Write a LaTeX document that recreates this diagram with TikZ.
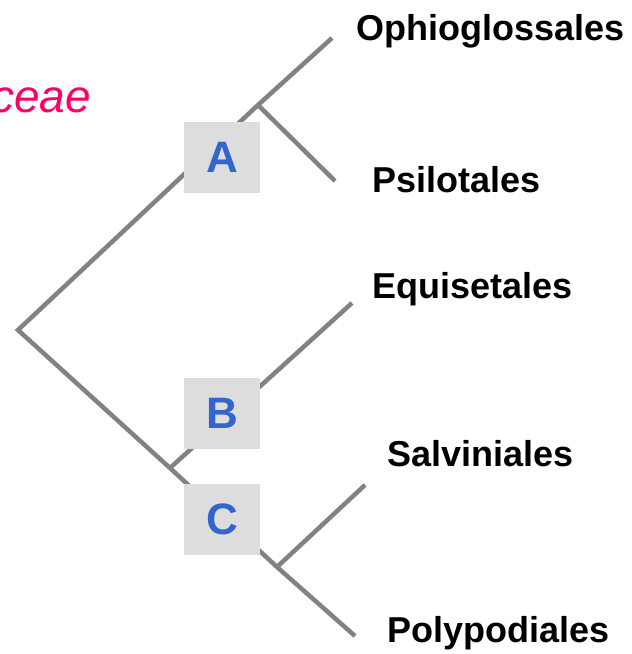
\documentclass[tikz,border=0pt]{standalone}
\usepackage{fontspec}
\setmainfont{Liberation Sans}
\definecolor{branchgray}{HTML}{828282}
\definecolor{boxgray}{HTML}{DDDDDD}
\definecolor{cladeblue}{HTML}{3366CC}
\definecolor{titlepink}{HTML}{FF0066}
\begin{document}
\begin{tikzpicture}[x=1pt,y=-1pt,
	branch/.style={draw=branchgray,line width=4.5pt},
	clade/.style={fill=boxgray,text=cladeblue,inner sep=0pt,minimum width=76pt,minimum height=71pt,font=\fontsize{44}{44}\selectfont\bfseries},
	taxon/.style={anchor=base west,inner sep=0pt,font=\fontsize{36}{36}\selectfont\bfseries}]
	\useasboundingbox (0,0) rectangle (632,654);

	%title fragments (cut off by the page)
	\node[anchor=base west,inner sep=0pt,text=cladeblue,font=\fontsize{40}{40}\selectfont\bfseries] (ttl) at (14,-8.5) {(C)};
	\node[anchor=base east,inner sep=0pt,text=titlepink,font=\fontsize{46}{46}\selectfont\itshape] (fam) at (91,112) {ceae};

	%branch points and tips
	\coordinate (root) at (18,330);
	\coordinate (jA) at (258,105);
	\coordinate (jB) at (170,468);
	\coordinate (jC) at (277,567);
	\coordinate (tOph) at (332,38);
	\coordinate (tPsi) at (335,181);
	\coordinate (tEqu) at (352,303);
	\coordinate (tSal) at (365,485);
	\coordinate (tPol) at (355,636);

	%tree
	\draw[branch] (tOph) -- (jA) -- (root) -- (jB) -- (jC) -- (tPol); %main stem
	\draw[branch] (jA) -- (tPsi); %Psilotales
	\draw[branch] (jB) -- (tEqu); %Equisetales
	\draw[branch] (jC) -- (tSal); %Salviniales

	%clade boxes
	\node[clade] (A) at (222,157) {A};
	\node[clade] (B) at (222,413) {B};
	\node[clade] (C) at (222,519) {C};

	%taxa
	\node[taxon] (oph) at (356,40) {Ophioglossales};
	\node[taxon] (psi) at (372,192) {Psilotales};
	\node[taxon] (equ) at (372,298) {Equisetales};
	\node[taxon] (sal) at (387,466) {Salviniales};
	\node[taxon] (pol) at (387,642) {Polypodiales};
\end{tikzpicture}
\end{document}
